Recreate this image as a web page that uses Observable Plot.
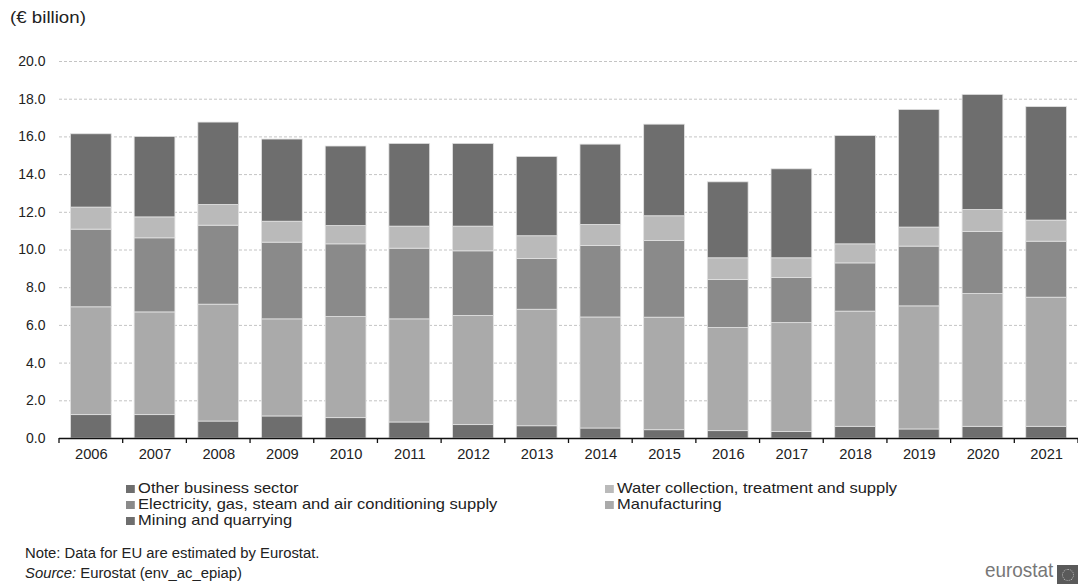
<!DOCTYPE html>
<html>
<head>
<meta charset="utf-8">
<script src="https://cdn.jsdelivr.net/npm/d3@7"></script>
<script src="https://cdn.jsdelivr.net/npm/@observablehq/plot@0.6"></script>
<style>
  html, body { margin: 0; padding: 0; background: #fff; }
  body { width: 1078px; height: 584px; position: relative; overflow: hidden; font-family: "Liberation Sans", Arial, sans-serif; color: #222; }
  #title { position: absolute; left: 10px; top: 8px; font-size: 17px; transform: scaleX(1.1); transform-origin: left top; }
  #chart { position: absolute; left: 0; top: 40px; }
  .leg { position: absolute; font-size: 15px; line-height: 16px; white-space: nowrap; transform: scaleX(1.1); transform-origin: left top; }
  .leg span.sw { display: inline-block; width: 8px; height: 8px; margin-right: 3px; vertical-align: 0px; }
  #note { position: absolute; left: 25px; top: 543px; font-size: 14px; line-height: 20px; transform: scaleX(1.06); transform-origin: left top; white-space: nowrap; }
  #logo { position: absolute; left: 985px; top: 558px; font-size: 21px; line-height: 24px; color: #777; transform: scaleX(0.9); transform-origin: left top; }
  #flag { position: absolute; left: 1057px; top: 565px; width: 21px; height: 19px; background: #5a5a5a; }
  #flag div { position: absolute; left: 5px; top: 4px; width: 10px; height: 10px; border-radius: 50%; border: 1px dotted #bbb; }
</style>
</head>
<body>
<div id="title">(€ billion)</div>
<div id="chart"></div>
<div id="legend"></div>
<div id="note">Note: Data for EU are estimated by Eurostat.<br><i>Source:</i> Eurostat (env_ac_epiap)</div>
<div id="logo">eurostat</div>
<div id="flag"><div></div></div>
<script>
const years = ["2006","2007","2008","2009","2010","2011","2012","2013","2014","2015","2016","2017","2018","2019","2020","2021"];
const sectors = ["Mining and quarrying","Manufacturing","Electricity, gas, steam and air conditioning supply","Water collection, treatment and supply","Other business sector"];
const mining        = [1.24,1.24,0.90,1.17,1.08,0.85,0.71,0.65,0.53,0.44,0.39,0.34,0.62,0.48,0.62,0.62];
const manufacturing = [5.72,5.45,6.20,5.15,5.36,5.47,5.79,6.18,5.89,5.97,5.47,5.78,6.11,6.53,7.04,6.85];
const electricity   = [4.12,3.93,4.19,4.07,3.86,3.75,3.43,2.69,3.79,4.07,2.55,2.39,2.56,3.17,3.30,2.97];
const water         = [1.17,1.11,1.10,1.11,0.97,1.17,1.31,1.21,1.12,1.31,1.15,1.05,1.01,1.01,1.16,1.12];
const other         = [3.89,4.27,4.37,4.36,4.22,4.39,4.39,4.21,4.26,4.86,4.03,4.72,5.75,6.24,6.11,6.02];
const yTicks = [0,2,4,6,8,10,12,14,16,18,20];
const colors = ["#6e6e6e","#aaaaaa","#8a8a8a","#bababa","#6e6e6e"];
const legendOrder = ["Other business sector","Water collection, treatment and supply","Electricity, gas, steam and air conditioning supply","Manufacturing","Mining and quarrying"];

const series = [mining, manufacturing, electricity, water, other];
const data = [];
years.forEach((yr, i) => sectors.forEach((s, k) => data.push({year: yr, sector: s, value: series[k][i]})));

const chart = Plot.plot({
  width: 1078,
  height: 430,
  marginLeft: 59,
  marginRight: 0,
  marginTop: 21,
  marginBottom: 32,
  style: {fontFamily: "'Liberation Sans', Arial, sans-serif", fontSize: "14px", color: "#222", background: "#fff", overflow: "visible"},
  x: {domain: years, paddingInner: 0.36, paddingOuter: 0.18, round: false, label: null},
  y: {domain: [0, 20], ticks: yTicks, label: null},
  color: {domain: sectors, range: colors},
  marks: [
    Plot.gridY(yTicks.filter(d => d > 0), {stroke: "#c4c4c4", strokeOpacity: 1, strokeDasharray: "3,2"}),
    Plot.barY(data, {x: "year", y: "value", fill: "sector", order: sectors, stroke: "#e2e2e2", strokeWidth: 0.8}),
    Plot.axisY({ticks: yTicks, tickSize: 0, tickPadding: 14, tickFormat: d => d.toFixed(1), fontSize: 14}),
    Plot.axisX({tickSize: 0, tickPadding: 10, fontSize: 14.7}),
    Plot.ruleY([0], {stroke: "#111", strokeWidth: 1.3})
  ]
});
document.getElementById("chart").appendChild(chart);

// tick marks between bands, positioned from the library's scales
const xs = chart.scale("x"), ys = chart.scale("y");
const gap = (xs.step - xs.bandwidth) / 2;
const bounds = years.map(y => xs.apply(y) - gap);
bounds.push(xs.apply(years[years.length - 1]) + xs.bandwidth + gap);
const y0 = ys.apply(0);
d3.select(chart).append("g").attr("stroke", "#111").attr("stroke-width", 1.3)
  .selectAll("line").data(bounds).join("line")
  .attr("x1", d => d).attr("x2", d => d).attr("y1", y0).attr("y2", y0 + 5);

// legend (two columns)
const leg = document.getElementById("legend");
const colX = [126, 605];
legendOrder.forEach((s, i) => {
  const div = document.createElement("div");
  div.className = "leg";
  div.style.left = colX[i % 2] + "px";
  div.style.top = (480 + Math.floor(i / 2) * 16) + "px";
  const sw = document.createElement("span");
  sw.className = "sw";
  sw.style.background = colors[sectors.indexOf(s)];
  div.appendChild(sw);
  div.appendChild(document.createTextNode(s));
  leg.appendChild(div);
});
</script>
</body>
</html>
